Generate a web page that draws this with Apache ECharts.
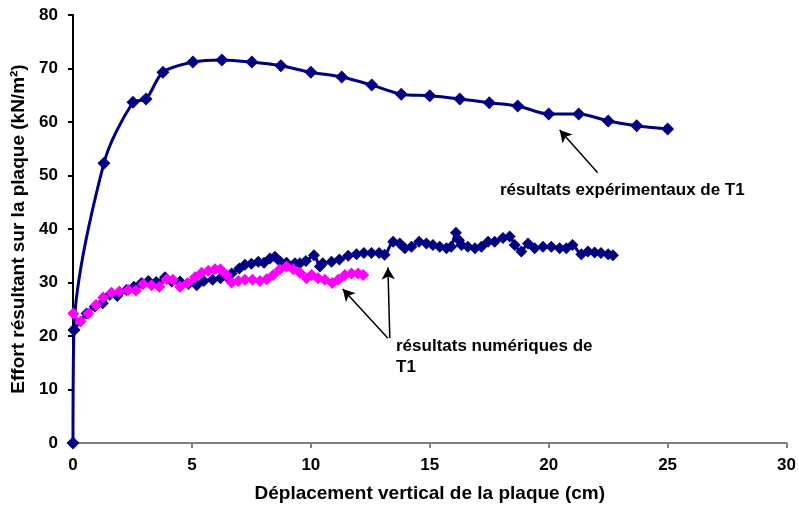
<!DOCTYPE html>
<html>
<head>
<meta charset="utf-8">
<script src="https://cdn.jsdelivr.net/npm/echarts@6/dist/echarts.min.js"></script>
<style>
  html, body { margin: 0; padding: 0; background: #fff; }
  #chart { width: 799px; height: 509px; }
</style>
</head>
<body>
<div id="chart"></div>
<script>
// experimental curve (upper)
const expX = [0, 0.04, 1.3, 2.52, 3.07, 3.78, 5.04, 6.26, 7.52, 8.74, 10.0, 11.3, 12.56, 13.8, 15.0, 16.26, 17.5, 18.7, 20.0, 21.26, 22.5, 23.7, 25.0]
const expY = [0, 21.1, 52.3, 63.7, 64.3, 69.3, 71.2, 71.6, 71.2, 70.5, 69.3, 68.4, 66.9, 65.2, 64.9, 64.3, 63.6, 63.0, 61.5, 61.5, 60.2, 59.3, 58.7]

// lower dark curve
const numX = [0.04, 0.57, 0.92, 1.25, 1.55, 1.86, 2.25, 2.56, 2.88, 3.17, 3.5, 3.87, 4.15, 4.5, 4.85, 5.2, 5.5, 5.87, 6.2, 6.46, 6.67, 6.99, 7.23, 7.5, 7.79, 8.03, 8.28, 8.49, 8.72, 8.98, 9.33, 9.54, 9.79, 10.13, 10.38, 10.5, 10.87, 11.2, 11.57, 11.92, 12.23, 12.55, 12.87, 13.1, 13.46, 13.74, 13.95, 14.23, 14.55, 14.86, 15.13, 15.42, 15.7, 15.9, 16.1, 16.23, 16.33, 16.6, 16.9, 17.17, 17.45, 17.73, 18.08, 18.36, 18.57, 18.85, 19.13, 19.41, 19.76, 20.11, 20.46, 20.74, 21.0, 21.37, 21.65, 21.93, 22.2, 22.5, 22.7]
const numY = [21.1, 24.2, 25.5, 26.1, 27.7, 27.5, 28.6, 29.2, 29.9, 30.3, 30.1, 31.0, 30.2, 30.2, 29.7, 29.5, 30.3, 30.5, 30.8, 31.1, 31.7, 32.6, 33.3, 33.5, 33.9, 33.7, 34.5, 34.8, 33.9, 33.7, 33.6, 33.6, 34.0, 35.1, 33.0, 33.6, 33.9, 34.3, 35.0, 35.3, 35.5, 35.5, 35.5, 35.2, 37.6, 37.3, 36.4, 36.7, 37.6, 37.3, 37.0, 36.7, 36.4, 36.7, 39.3, 37.9, 37.0, 36.7, 36.4, 36.7, 37.6, 37.6, 38.3, 38.6, 37.0, 35.8, 37.3, 36.4, 36.7, 36.7, 36.4, 36.4, 37.0, 35.3, 35.8, 35.6, 35.5, 35.3, 35.1]

// magenta curve
const magX = [0.01, 0.32, 0.64, 0.97, 1.27, 1.62, 1.95, 2.32, 2.65, 2.95, 3.3, 3.63, 3.94, 4.2, 4.5, 4.82, 5.13, 5.41, 5.69, 5.97, 6.2, 6.46, 6.67, 6.95, 7.23, 7.55, 7.86, 8.14, 8.42, 8.7, 8.98, 9.26, 9.54, 9.82, 10.03, 10.3, 10.59, 10.9, 11.15, 11.43, 11.71, 11.99, 12.2]
const magY = [24.2, 22.7, 24.2, 25.8, 27.2, 28.1, 28.3, 28.6, 28.5, 29.7, 29.5, 29.2, 30.6, 30.5, 29.2, 29.9, 31.0, 31.8, 32.2, 32.5, 32.5, 31.4, 30.0, 30.3, 30.5, 30.5, 30.3, 30.6, 31.4, 32.5, 33.0, 32.5, 31.8, 30.8, 31.4, 30.8, 30.5, 29.9, 30.5, 31.4, 31.7, 31.7, 31.4]

const xTicks = [0, 5, 10, 15, 20, 25, 30]
const yTicks = [0, 10, 20, 30, 40, 50, 60, 70, 80]

const font = '"Liberation Sans", Arial, sans-serif'
const navy = '#000080'
const magenta = '#ff00ff'

const zip = (xs, ys) => xs.map((x, i) => [x, ys[i]])

const arrowStyle = { color: '#000', width: 1.5, type: 'solid' }

const option = {
  animation: false,
  backgroundColor: '#fff',
  grid: { left: 73, right: 12, top: 15, bottom: 66 },
  xAxis: {
    type: 'value',
    min: xTicks[0],
    max: xTicks[xTicks.length - 1],
    interval: 5,
    name: 'Déplacement vertical de la plaque (cm)',
    nameLocation: 'middle',
    nameGap: 41,
    nameTextStyle: { fontFamily: font, fontWeight: 'bold', fontSize: 19, color: '#000' },
    axisLine: { lineStyle: { color: '#808080', width: 2 } },
    axisTick: { show: true, length: 5, lineStyle: { color: '#808080', width: 2 } },
    axisLabel: { fontFamily: font, fontWeight: 'bold', fontSize: 17, color: '#000', margin: 14 },
    splitLine: { show: false }
  },
  yAxis: {
    type: 'value',
    min: yTicks[0],
    max: yTicks[yTicks.length - 1],
    interval: 10,
    name: 'Effort résultant sur la plaque (kN/m²)',
    nameLocation: 'middle',
    nameGap: 42,
    nameTextStyle: { fontFamily: font, fontWeight: 'bold', fontSize: 19, color: '#000' },
    axisLine: { show: true, lineStyle: { color: '#000', width: 2 } },
    axisTick: { show: true, length: 5, lineStyle: { color: '#000', width: 2 } },
    axisLabel: { fontFamily: font, fontWeight: 'bold', fontSize: 17, color: '#000', margin: 15 },
    splitLine: { show: false }
  },
  series: [
    {
      type: 'line',
      data: zip(expX, expY),
      smooth: 0.3,
      symbol: 'diamond',
      symbolSize: 13,
      lineStyle: { color: navy, width: 3 },
      itemStyle: { color: navy },
      markLine: {
        silent: true,
        symbol: ['none', 'arrow'],
        symbolSize: [10, 12],
        label: { show: false },
        lineStyle: arrowStyle,
        data: [
          [{ coord: [22.06, 50.5] }, { coord: [20.46, 58.5] }],
          [{ coord: [13.32, 19.6] }, { coord: [13.24, 32.8] }],
          [{ coord: [13.24, 19.6] }, { coord: [11.34, 28.8] }]
        ]
      }
    },
    {
      type: 'line',
      data: zip(numX, numY),
      smooth: 0.3,
      symbol: 'diamond',
      symbolSize: 12,
      lineStyle: { color: navy, width: 3 },
      itemStyle: { color: navy }
    },
    {
      type: 'line',
      data: zip(magX, magY),
      smooth: 0.3,
      symbol: 'diamond',
      symbolSize: 12,
      lineStyle: { color: magenta, width: 3 },
      itemStyle: { color: magenta }
    }
  ],
  graphic: [
    {
      type: 'text',
      left: 500,
      top: 182,
      style: { text: 'résultats expérimentaux de T1', fontFamily: font, fontWeight: 'bold', fontSize: 17, fill: '#000' }
    },
    {
      type: 'text',
      left: 396,
      top: 336,
      style: { text: 'résultats numériques de\nT1', fontFamily: font, fontWeight: 'bold', fontSize: 17, lineHeight: 21, fill: '#000' }
    }
  ]
}

const chart = echarts.init(document.getElementById('chart'))
chart.setOption(option)

window.addEventListener('resize', () => {
  chart.resize()
})
</script>
</body>
</html>
